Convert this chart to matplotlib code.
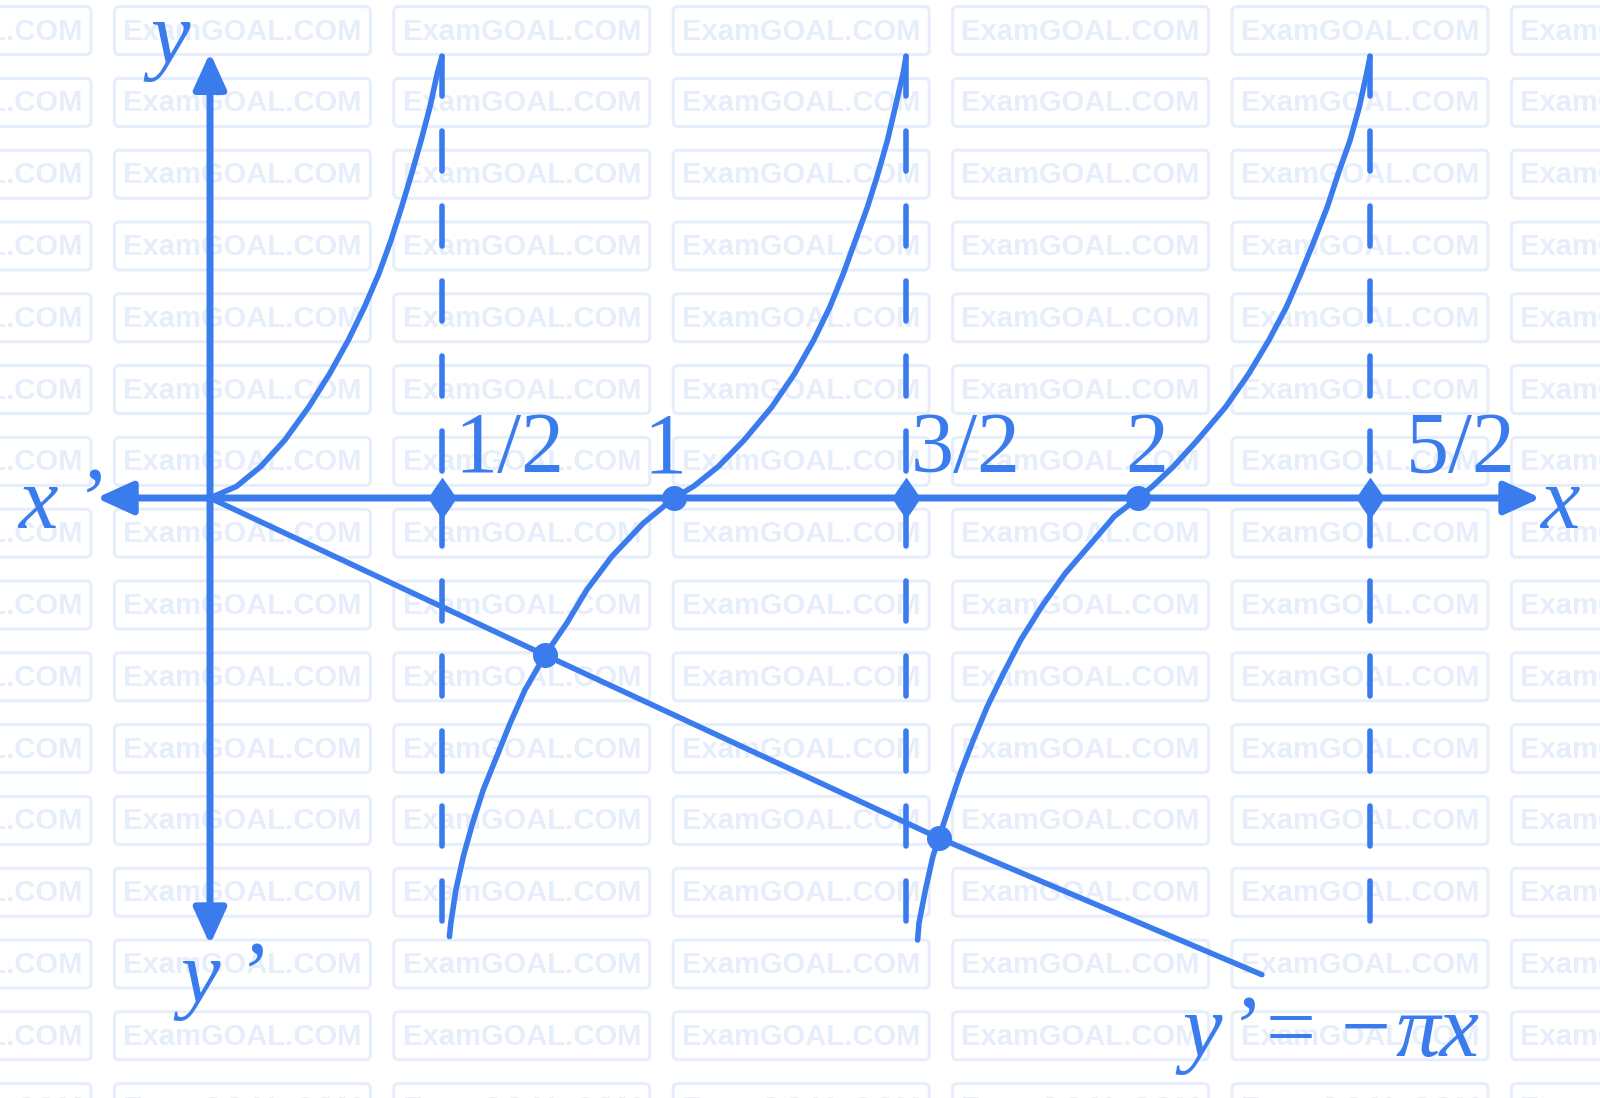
# -*- coding: utf-8 -*-
import matplotlib
matplotlib.use('Agg')
import matplotlib.pyplot as plt
from matplotlib.patches import FancyBboxPatch, FancyArrowPatch
from matplotlib.path import Path

BLUE = '#3a7bee'
WM = '#e6edfb'

# marks on the x axis
tick_vals = [0.5, 1.0, 1.5, 2.0, 2.5]
tick_labels = ['1/2', '1', '3/2', '2', '5/2']
asym_x = [0.5, 1.5, 2.5]
root_x = [1.0, 2.0]

# y = tan(pi x), one list per branch piece
up_y = [0.0, 0.17, 0.46, 0.85, 1.34, 1.83, 2.32, 2.81, 3.30, 3.79, 4.28, 4.78, 5.26, 5.75, 6.25, 6.49]
b1_x = [0.0, 0.057, 0.109, 0.161, 0.213, 0.258, 0.298, 0.333, 0.364, 0.390, 0.413, 0.435, 0.455, 0.474, 0.490, 0.5]
b2u_x = [1.0, 1.042, 1.095, 1.151, 1.211, 1.260, 1.301, 1.336, 1.365, 1.391, 1.417, 1.440, 1.460, 1.477, 1.494, 1.5]
b3u_x = [2.0, 2.031, 2.076, 2.128, 2.189, 2.239, 2.282, 2.320, 2.351, 2.380, 2.408, 2.432, 2.457, 2.477, 2.493, 2.5]

b2l_x = [0.516, 0.519, 0.530, 0.546, 0.566, 0.589, 0.618, 0.647, 0.679, 0.722, 0.769, 0.812, 0.866, 0.934, 1.0]
b2l_y = [-6.45, -6.25, -5.76, -5.27, -4.78, -4.29, -3.80, -3.31, -2.82, -2.31, -1.84, -1.35, -0.86, -0.37, 0.0]
b3l_x = [1.525, 1.528, 1.542, 1.558, 1.571, 1.593, 1.617, 1.645, 1.675, 1.710, 1.747, 1.792, 1.843, 1.905, 1.949, 2.0]
b3l_y = [-6.50, -6.25, -5.76, -5.27, -5.00, -4.54, -4.05, -3.56, -3.07, -2.58, -2.09, -1.60, -1.11, -0.62, -0.27, 0.0]

# y' = -pi x (as sketched)
line_x = [0.0, 0.722, 1.571, 2.267]
line_y = [0.0, -2.31, -5.00, -7.01]
cross_x = [0.722, 1.571]
cross_y = [-2.31, -5.00]

W, H = 1600, 1098
fig = plt.figure(figsize=(16, 10.98), dpi=100)

################################################################################
# watermark grid
bg = fig.add_axes([0, 0, 1, 1])
bg.set_xlim(0, W)
bg.set_ylim(H, 0)
bg.axis('off')
for i in range(16):
    cy = 30.6 + 71.8 * i
    for j in range(7):
        left = -165 + 279.4 * j
        bg.add_patch(FancyBboxPatch((left + 5, cy - 19), 246, 38,
                                    boxstyle='round,pad=5', fill=False,
                                    ec=WM, lw=2.2))
        bg.text(left + 128, cy + 1, 'ExamGOAL.COM', ha='center', va='center',
                fontsize=21, fontweight='bold', family='Liberation Sans', color=WM)

################################################################################
ax = fig.add_axes([0, 0, 1, 1], zorder=2)
ax.patch.set_alpha(0)
ax.set_xlim(-210 / 464, (W - 210) / 464)
ax.set_ylim((498 - H) / 68, 498 / 68)
ax.axis('off')

# axes with arrows
for pa, pb in [((-0.245, 0), (2.868, 0)), ((0, -6.57), (0, 6.55))]:
    ax.add_patch(FancyArrowPatch(pa, pb, arrowstyle='<|-|>,head_length=1.1,head_width=0.5',
                                 mutation_scale=20, lw=5, color=BLUE,
                                 shrinkA=0, shrinkB=0, zorder=3))

# asymptotes (drawn top to bottom so the dashes start at the top)
for a in asym_x:
    ax.plot([a, a], [6.5, -6.5], color=BLUE, lw=4.0, ls=(0, (7.2, 6.3)),
            dash_capstyle='round', zorder=3)

# tan branches
for xs, ys in [(b1_x, up_y), (b2u_x, up_y), (b3u_x, up_y), (b2l_x, b2l_y), (b3l_x, b3l_y)]:
    ax.plot(xs, ys, color=BLUE, lw=4.0, solid_capstyle='round', solid_joinstyle='round', zorder=4)

ax.plot(line_x, line_y, color=BLUE, lw=4.0, solid_capstyle='round', solid_joinstyle='round', zorder=4)

# markers
k = 0.42
star = Path([(0, 1), (k, k), (0.68, 0), (k, -k), (0, -1), (-k, -k), (-0.68, 0), (-k, k), (0, 1), (0, 1)],
            [Path.MOVETO, Path.CURVE3, Path.CURVE3, Path.CURVE3, Path.CURVE3,
             Path.CURVE3, Path.CURVE3, Path.CURVE3, Path.CURVE3, Path.CLOSEPOLY])
ax.plot(asym_x, [0] * len(asym_x), ls='none', marker=star, ms=30, color=BLUE, mew=0, zorder=5)
ax.plot(root_x, [0] * len(root_x), ls='none', marker='o', ms=18, color=BLUE, mew=0, zorder=5)
ax.plot(cross_x, cross_y, ls='none', marker='o', ms=18, color=BLUE, mew=0, zorder=5)

# tick labels
lab_dx = [12, -9, 5, 9, 36]
lab_ha = ['left', 'center', 'left', 'center', 'left']
for v, s, dx, ha in zip(tick_vals, tick_labels, lab_dx, lab_ha):
    ax.annotate(s, xy=(v, 0), xytext=(dx, 26), textcoords='offset pixels',
                ha=ha, va='baseline', fontsize=62, family='Liberation Serif', color=BLUE)

################################################################################
def ftxt(px, py, s, ha='left', style='italic'):
    fig.text(px / W, 1 - py / H, s, ha=ha, va='baseline', fontsize=64,
             family='Liberation Serif', style=style, color=BLUE, zorder=6)

ftxt(170, 63, 'y', ha='center')
ftxt(18, 528, 'x')
ftxt(74, 528, '\u2019')
ftxt(1540, 528, 'x')
ftxt(180, 1002, 'y')
ftxt(236, 1002, '\u2019')
ftxt(1182, 1056, 'y')
ftxt(1228, 1056, '\u2019')
ftxt(1266, 1056, '=', style='normal')
ftxt(1341, 1056, '\u2212', style='normal')
ftxt(1396, 1056, '\u03c0x')

plt.savefig('out.png', dpi=100)
